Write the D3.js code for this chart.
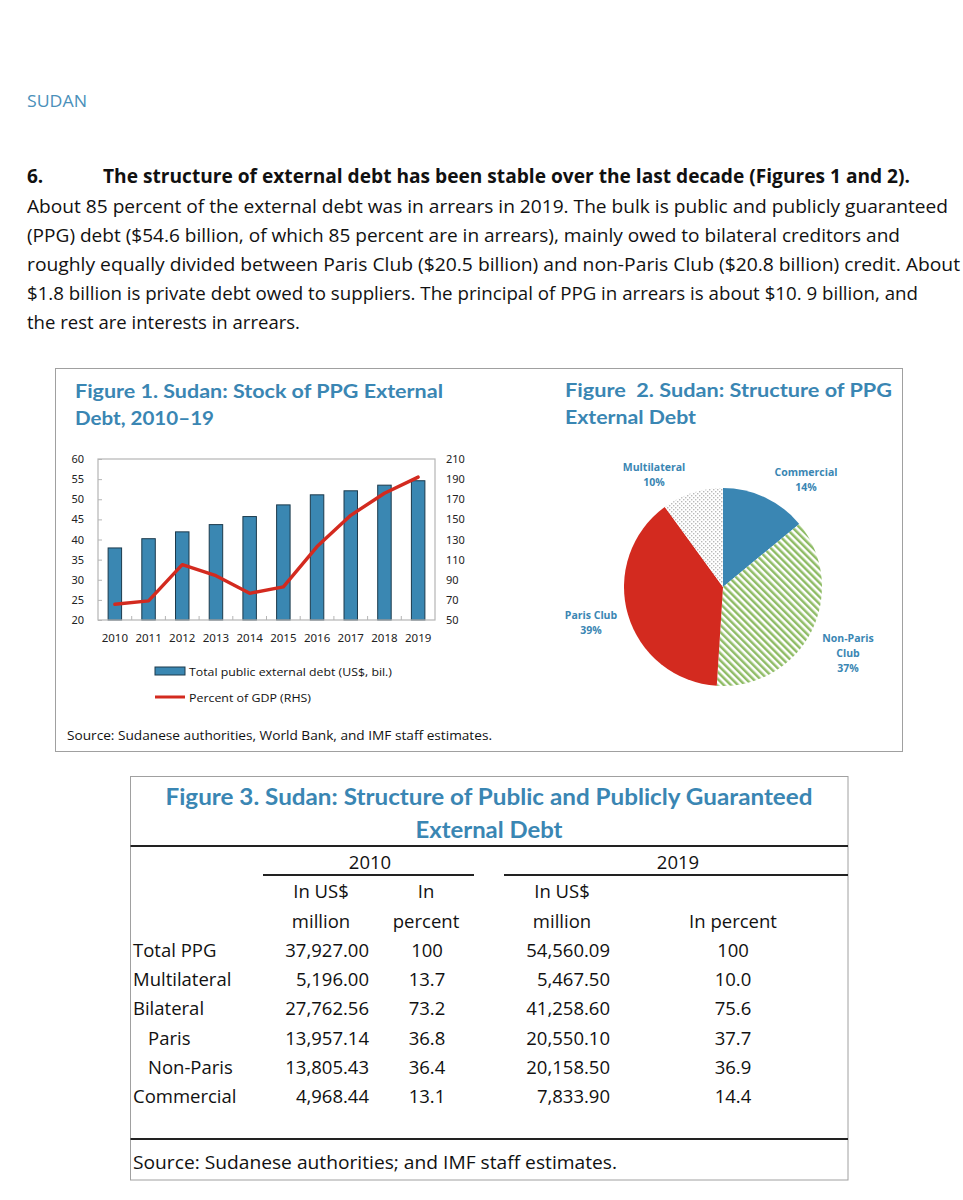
<!DOCTYPE html>
<html>
<head>
<meta charset="utf-8">
<script src="https://cdn.jsdelivr.net/npm/d3@7/dist/d3.min.js"></script>
<style>
  body { margin: 0; background: #fff; }
  text { font-family: "Open Sans", sans-serif; }
</style>
</head>
<body>
<svg id="page" width="963" height="1200"></svg>
<script>
// ---- data ----
const years = [2010, 2011, 2012, 2013, 2014, 2015, 2016, 2017, 2018, 2019];
const debtStock = [37.9, 40.2, 41.9, 43.7, 45.7, 48.6, 51.1, 52.1, 53.5, 54.6];   // US$ bil.
const debtPctGdp = [65.6, 69.0, 105.0, 94.0, 76.5, 83.0, 123.0, 154.0, 176.0, 192.0]; // RHS
const leftTicks = [20, 25, 30, 35, 40, 45, 50, 55, 60];
const rightTicks = [50, 70, 90, 110, 130, 150, 170, 190, 210];

const pieLabels = ["Commercial", "Non-Paris Club", "Paris Club", "Multilateral"];
const pieShares = [14, 37, 39, 10];

const rowLabels = ["Total PPG", "Multilateral", "Bilateral", "Paris", "Non-Paris", "Commercial"];
const usd2010 = [37927.00, 5196.00, 27762.56, 13957.14, 13805.43, 4968.44];
const pct2010 = [100, 13.7, 73.2, 36.8, 36.4, 13.1];
const usd2019 = [54560.09, 5467.50, 41258.60, 20550.10, 20158.50, 7833.90];
const pct2019 = [100, 10.0, 75.6, 37.7, 36.9, 14.4];

const bodyLines = [
  "About 85 percent of the external debt was in arrears in 2019. The bulk is public and publicly guaranteed",
  "(PPG) debt ($54.6 billion, of which 85 percent are in arrears), mainly owed to bilateral creditors and",
  "roughly equally divided between Paris Club ($20.5 billion) and non-Paris Club ($20.8 billion) credit. About",
  "$1.8 billion is private debt owed to suppliers. The principal of PPG in arrears is about $10. 9 billion, and",
  "the rest are interests in arrears."
];

// ---- layout ----
const blue = "#3a86b3";
const red = "#d32a1f";
const bodyWidths = [921, 873, 933, 891, 273];

const svg = d3.select("#page");
svg.append("rect").attr("width", 963).attr("height", 1200).attr("fill", "#fff");

const defs = svg.append("defs");
const stripes = defs.append("pattern").attr("id", "stripes")
  .attr("patternUnits", "userSpaceOnUse").attr("width", 5).attr("height", 5)
  .attr("patternTransform", "rotate(-45)");
stripes.append("rect").attr("width", 5).attr("height", 5).attr("fill", "#fff");
stripes.append("rect").attr("width", 2.5).attr("height", 5).attr("fill", "#8fbc66");

const dots = defs.append("pattern").attr("id", "dots")
  .attr("patternUnits", "userSpaceOnUse").attr("width", 4).attr("height", 4);
dots.append("rect").attr("width", 4).attr("height", 4).attr("fill", "#fff");
dots.append("rect").attr("x", 0).attr("y", 0).attr("width", 1.4).attr("height", 1.4).attr("fill", "#b9b9b9");
dots.append("rect").attr("x", 2).attr("y", 2).attr("width", 1.4).attr("height", 1.4).attr("fill", "#b9b9b9");

// ---- page text ----
svg.append("text").attr("x", 27).attr("y", 107).text("SUDAN")
  .attr("font-size", 16).attr("fill", "#4a90ba").attr("textLength", 60).attr("lengthAdjust", "spacingAndGlyphs");

svg.append("text").attr("x", 27).attr("y", 183).text("6.")
  .attr("font-size", 19).attr("font-weight", "bold").attr("fill", "#111");
svg.append("text").attr("x", 103).attr("y", 183)
  .text("The structure of external debt has been stable over the last decade (Figures 1 and 2).")
  .attr("font-size", 19).attr("font-weight", "bold").attr("fill", "#111")
  .attr("textLength", 807).attr("lengthAdjust", "spacingAndGlyphs");

svg.selectAll(".body").data(bodyLines).enter().append("text")
  .attr("class", "body")
  .attr("x", 27).attr("y", (d, i) => 213 + i * 29)
  .attr("font-size", 18.5).attr("fill", "#111")
  .attr("textLength", (d, i) => bodyWidths[i]).attr("lengthAdjust", "spacingAndGlyphs")
  .text(d => d);

// frame of figures 1 and 2
svg.append("rect").attr("x", 55.5).attr("y", 368.5).attr("width", 847).attr("height", 383)
  .attr("fill", "none").attr("stroke", "#a0a0a0").attr("stroke-width", 1);

// ---- Figure 1 ----
const fig1Title = ["Figure 1. Sudan: Stock of PPG External", "Debt, 2010\u201319"];
const fig1TitleW = [368, 139];
svg.selectAll(".t1").data(fig1Title).enter().append("text")
  .attr("class", "t1").attr("x", 75).attr("y", (d, i) => 398 + i * 27)
  .style("font-family", "Lato, sans-serif").attr("font-weight", "bold").attr("font-size", 19.5)
  .attr("fill", blue).attr("textLength", (d, i) => fig1TitleW[i]).attr("lengthAdjust", "spacingAndGlyphs")
  .text(d => d);

const plot = { left: 98, right: 435, top: 459, bottom: 620 };
const x1 = d3.scaleBand().domain(years).range([plot.left, plot.right]).paddingInner(0.6).paddingOuter(0.3);
const yL = d3.scaleLinear().domain([20, 60]).range([plot.bottom, plot.top]);
const yR = d3.scaleLinear().domain([50, 210]).range([plot.bottom, plot.top]);

const g1 = svg.append("g");

// bars
g1.selectAll(".bar").data(years).enter().append("rect")
  .attr("class", "bar")
  .attr("x", d => x1(d)).attr("width", x1.bandwidth())
  .attr("y", (d, i) => yL(debtStock[i])).attr("height", (d, i) => plot.bottom - yL(debtStock[i]))
  .attr("fill", "#3a87b2").attr("stroke", "#1c3a4c").attr("stroke-width", 1);

// frame
g1.append("rect").attr("x", plot.left).attr("y", plot.top)
  .attr("width", plot.right - plot.left).attr("height", plot.bottom - plot.top)
  .attr("fill", "none").attr("stroke", "#b5b5b5").attr("stroke-width", 1.2);

// left axis
const axL = g1.append("g").attr("transform", `translate(${plot.left},0)`)
  .call(d3.axisLeft(yL).tickValues(leftTicks).tickSize(-4).tickPadding(14));
axL.select(".domain").remove();
axL.selectAll("line").attr("stroke", "#b5b5b5");
axL.selectAll("text").attr("font-size", 11).attr("fill", "#222").style("font-family", "'Noto Sans', sans-serif");

// right axis
const axR = g1.append("g").attr("transform", `translate(${plot.right},0)`)
  .call(d3.axisRight(yR).tickValues(rightTicks).tickSize(0).tickPadding(11));
axR.select(".domain").remove();
axR.selectAll("text").attr("font-size", 11).attr("fill", "#222").style("font-family", "'Noto Sans', sans-serif");

// bottom axis
const axB = g1.append("g").attr("transform", `translate(0,${plot.bottom})`)
  .call(d3.axisBottom(x1).tickSize(0).tickPadding(14));
axB.select(".domain").remove();
axB.selectAll("text").attr("font-size", 11.5).attr("fill", "#222").style("font-family", "'Noto Sans', sans-serif");
// category separators
const gap = x1.step() - x1.bandwidth();
g1.selectAll(".sep").data(years.slice(1)).enter().append("line")
  .attr("x1", d => x1(d) - gap / 2).attr("x2", d => x1(d) - gap / 2)
  .attr("y1", plot.bottom).attr("y2", plot.bottom - 4)
  .attr("stroke", "#b5b5b5");

// percent of GDP line
const line = d3.line()
  .x((d, i) => x1(years[i]) + x1.bandwidth() / 2)
  .y(d => yR(d));
g1.append("path").datum(debtPctGdp).attr("d", line)
  .attr("fill", "none").attr("stroke", red).attr("stroke-width", 3.4)
  .attr("stroke-linejoin", "round").attr("stroke-linecap", "round");

// legend
g1.append("rect").attr("x", 155).attr("y", 667).attr("width", 30).attr("height", 8)
  .attr("fill", "#3a87b2").attr("stroke", "#1c3a4c").attr("stroke-width", 1);
g1.append("text").attr("x", 189).attr("y", 676).text("Total public external debt (US$, bil.)")
  .attr("font-size", 11.5).attr("fill", "#111")
  .attr("textLength", 203).attr("lengthAdjust", "spacingAndGlyphs");
g1.append("line").attr("x1", 155).attr("x2", 185).attr("y1", 697).attr("y2", 697)
  .attr("stroke", red).attr("stroke-width", 3);
g1.append("text").attr("x", 189).attr("y", 702).text("Percent of GDP (RHS)")
  .attr("font-size", 11.5).attr("fill", "#111")
  .attr("textLength", 122).attr("lengthAdjust", "spacingAndGlyphs");

svg.append("text").attr("x", 67).attr("y", 740)
  .text("Source: Sudanese authorities, World Bank, and IMF staff estimates.")
  .attr("font-size", 13).attr("fill", "#111")
  .attr("textLength", 425).attr("lengthAdjust", "spacingAndGlyphs");

// ---- Figure 2 ----
const fig2Title = ["Figure  2. Sudan: Structure of PPG", "External Debt"];
const fig2TitleW = [327, 131];
svg.selectAll(".t2").data(fig2Title).enter().append("text")
  .attr("class", "t2").attr("x", 565).attr("y", (d, i) => 397 + i * 27)
  .style("font-family", "Lato, sans-serif").style("white-space", "pre")
  .attr("font-weight", "bold").attr("font-size", 19.5)
  .attr("fill", blue).attr("textLength", (d, i) => fig2TitleW[i]).attr("lengthAdjust", "spacingAndGlyphs")
  .text(d => d);

const pieCenter = [723, 587];
const pieFills = [blue, "url(#stripes)", red, "url(#dots)"];
const pie = d3.pie().sort(null).value(d => d);
const arc = d3.arc().innerRadius(0).outerRadius(99);
const g2 = svg.append("g").attr("transform", `translate(${pieCenter[0]},${pieCenter[1]})`);
g2.selectAll("path").data(pie(pieShares)).enter().append("path")
  .attr("d", arc).attr("fill", (d, i) => pieFills[i]);

// slice labels: lines of text and their anchor offsets from pie centre
const pieLabelLines = pieLabels.map((l, i) => {
  const words = l === "Non-Paris Club" ? ["Non-Paris", "Club"] : [l];
  return words.concat(pieShares[i] + "%");
});
const pieLabelPos = [[83, -111], [125, 55], [-132, 32], [-69, -116]];
pieLabelLines.forEach((lines, i) => {
  const t = g2.append("text")
    .attr("text-anchor", "middle").attr("font-size", 10.5).attr("font-weight", "bold")
    .attr("fill", blue);
  lines.forEach((s, j) => {
    t.append("tspan").attr("x", pieLabelPos[i][0]).attr("y", pieLabelPos[i][1] + j * 15).text(s);
  });
});

// ---- Figure 3 (table) ----
const box3 = { left: 130.5, right: 848, top: 776.5, bottom: 1180 };
svg.append("rect").attr("x", box3.left).attr("y", box3.top)
  .attr("width", box3.right - box3.left).attr("height", box3.bottom - box3.top)
  .attr("fill", "none").attr("stroke", "#a0a0a0").attr("stroke-width", 1);

const fig3Title = ["Figure 3. Sudan: Structure of Public and Publicly Guaranteed", "External Debt"];
const fig3TitleW = [647, 147];
svg.selectAll(".t3").data(fig3Title).enter().append("text")
  .attr("class", "t3").attr("x", 489).attr("y", (d, i) => 805 + i * 33)
  .attr("text-anchor", "middle")
  .style("font-family", "Lato, sans-serif").attr("font-weight", "bold").attr("font-size", 22)
  .attr("fill", blue).attr("textLength", (d, i) => fig3TitleW[i]).attr("lengthAdjust", "spacingAndGlyphs")
  .text(d => d);

svg.append("line").attr("x1", box3.left).attr("x2", box3.right).attr("y1", 846).attr("y2", 846)
  .attr("stroke", "#222").attr("stroke-width", 2);
svg.append("line").attr("x1", box3.left).attr("x2", box3.right).attr("y1", 1139).attr("y2", 1139)
  .attr("stroke", "#222").attr("stroke-width", 2);

const tbl = svg.append("g").attr("font-size", 18.5).attr("fill", "#111");
// year headers
const yearHeads = [{ t: "2010", x: 370, x1: 263, x2: 474 }, { t: "2019", x: 678, x1: 504, x2: 848 }];
yearHeads.forEach(h => {
  tbl.append("text").attr("x", h.x).attr("y", 869).attr("text-anchor", "middle").text(h.t);
  tbl.append("line").attr("x1", h.x1).attr("x2", h.x2).attr("y1", 875).attr("y2", 875)
    .attr("stroke", "#222").attr("stroke-width", 2);
});
// column headers
const colHeads = [
  { x: 321, lines: ["In US$", "million"] },
  { x: 426, lines: ["In", "percent"] },
  { x: 562, lines: ["In US$", "million"] },
  { x: 733, lines: ["", "In percent"] }
];
colHeads.forEach(c => {
  c.lines.forEach((s, j) => {
    tbl.append("text").attr("x", c.x).attr("y", 898 + j * 30).attr("text-anchor", "middle").text(s);
  });
});

const rowY = d3.scalePoint().domain(rowLabels).range([957, 1103]);
const indent = ["Paris", "Non-Paris"];
const fUsd = d3.format(",.2f");
const fPct = (v, i) => i === 0 ? d3.format("d")(v) : d3.format(".1f")(v);

rowLabels.forEach((r, i) => {
  const y = rowY(r);
  tbl.append("text").attr("x", indent.includes(r) ? 148 : 133).attr("y", y).text(r);
  tbl.append("text").attr("x", 369).attr("y", y).attr("text-anchor", "end").text(fUsd(usd2010[i]));
  tbl.append("text").attr("x", 427).attr("y", y).attr("text-anchor", "middle").text(fPct(pct2010[i], i));
  tbl.append("text").attr("x", 610).attr("y", y).attr("text-anchor", "end").text(fUsd(usd2019[i]));
  tbl.append("text").attr("x", 733).attr("y", y).attr("text-anchor", "middle").text(fPct(pct2019[i], i));
});

svg.append("text").attr("x", 133).attr("y", 1169)
  .text("Source: Sudanese authorities; and IMF staff estimates.")
  .attr("font-size", 18).attr("fill", "#111")
  .attr("textLength", 484).attr("lengthAdjust", "spacingAndGlyphs");
</script>
</body>
</html>
